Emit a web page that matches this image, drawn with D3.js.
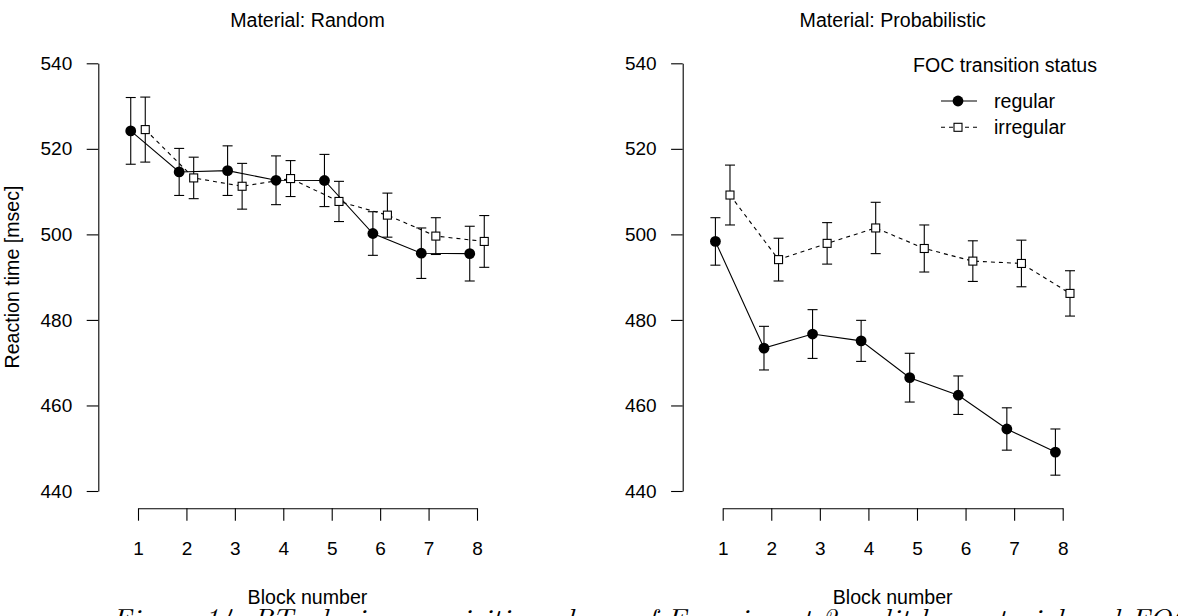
<!DOCTYPE html>
<html lang="en">
	<head>
		<meta charset="UTF-8" />
		<title>RT by block</title>
		<style>
			body { margin: 0; background: #fff; }
			svg { display: block; font-family: "Liberation Sans", Arial, Helvetica, sans-serif; }
		</style>
	</head>
	<body>
		<svg width="1178" height="616" id="svg"></svg>
		<script src="https://cdn.jsdelivr.net/npm/d3@7"></script>
		<script>
			// data (means and half-width of error bars)
			const blocks = [1, 2, 3, 4, 5, 6, 7, 8]
			const yTicks = [440, 460, 480, 500, 520, 540]
			const panelTitles = ["Material: Random", "Material: Probabilistic"]
			const seriesNames = ["regular", "irregular"]

			const randomRegular = [524.2, 514.6, 514.9, 512.65, 512.6, 500.2, 495.6, 495.5]
			const randomRegularErr = [7.8, 5.5, 5.8, 5.7, 6.1, 5.1, 5.9, 6.4]
			const randomIrregular = [524.5, 513.2, 511.25, 513.05, 507.7, 504.5, 499.6, 498.35]
			const randomIrregularErr = [7.6, 4.85, 5.35, 4.2, 4.7, 5.15, 4.3, 6.05]

			const probRegular = [498.35, 473.4, 476.7, 475.1, 466.5, 462.4, 454.5, 449.1]
			const probRegularErr = [5.55, 5.1, 5.7, 4.8, 5.7, 4.5, 4.95, 5.4]
			const probIrregular = [509.2, 494.1, 497.9, 501.5, 496.7, 493.75, 493.2, 486.2]
			const probIrregularErr = [7, 5, 4.85, 6, 5.5, 4.75, 5.45, 5.3]

			const svg = d3.select("#svg")
			const fs = 19.6 // labels
			const tfs = 19 // tick labels

			const y = d3.scaleLinear().domain([440, 540]).range([491, 63.3])

			const panels = [
				{
					title: panelTitles[0],
					axisX: 98.3,
					range: [138, 477],
					series: [
						{ name: seriesNames[0], vals: randomRegular, err: randomRegularErr, shift: -0.15 },
						{ name: seriesNames[1], vals: randomIrregular, err: randomIrregularErr, shift: 0.15 },
					],
				},
				{
					title: panelTitles[1],
					axisX: 682.7,
					range: [722.7, 1062.7],
					series: [
						{ name: seriesNames[0], vals: probRegular, err: probRegularErr, shift: -0.15 },
						{ name: seriesNames[1], vals: probIrregular, err: probIrregularErr, shift: 0.15 },
					],
				},
			]

			panels.forEach((p) => {
				const x = d3.scaleLinear().domain([1, 8]).range(p.range)
				const g = svg.append("g")

				// y axis
				const ya = g
					.append("g")
					.attr("transform", `translate(${p.axisX},0)`)
					.call(d3.axisLeft(y).tickValues(yTicks).tickFormat(d3.format("d")).tickSize(11.6).tickSizeOuter(0).tickPadding(14.5))
				// x axis
				const xa = g
					.append("g")
					.attr("transform", `translate(0,508.3)`)
					.call(d3.axisBottom(x).tickValues(blocks).tickFormat(d3.format("d")).tickSize(12.4).tickSizeOuter(0).tickPadding(20.5))
				;[ya, xa].forEach((a) => {
					a.selectAll("path,line").attr("stroke", "#000").attr("stroke-width", 1.1)
					a.selectAll("text").attr("font-size", tfs).attr("font-family", null).attr("fill", "#000")
				})

				g.append("text")
					.attr("x", (p.range[0] + p.range[1]) / 2)
					.attr("y", 26.5)
					.attr("text-anchor", "middle")
					.attr("font-size", fs)
					.text(p.title)

				g.append("text")
					.attr("x", (p.range[0] + p.range[1]) / 2)
					.attr("y", 604)
					.attr("text-anchor", "middle")
					.attr("font-size", fs)
					.text("Block number")

				p.series.forEach((s, si) => {
					const pts = blocks.map((b, i) => ({ b: b + s.shift, v: s.vals[i], e: s.err[i] }))
					const sg = g.append("g")

					// error bars
					const eb = sg.selectAll(".eb").data(pts).join("g")
					eb.append("line")
						.attr("x1", (d) => x(d.b)).attr("x2", (d) => x(d.b))
						.attr("y1", (d) => y(d.v - d.e)).attr("y2", (d) => y(d.v + d.e))
					eb.append("line")
						.attr("x1", (d) => x(d.b) - 5).attr("x2", (d) => x(d.b) + 5)
						.attr("y1", (d) => y(d.v + d.e)).attr("y2", (d) => y(d.v + d.e))
					eb.append("line")
						.attr("x1", (d) => x(d.b) - 5).attr("x2", (d) => x(d.b) + 5)
						.attr("y1", (d) => y(d.v - d.e)).attr("y2", (d) => y(d.v - d.e))
					eb.selectAll("line").attr("stroke", "#000").attr("stroke-width", 1.1)

					sg.append("path")
						.datum(pts)
						.attr("fill", "none")
						.attr("stroke", "#000")
						.attr("stroke-width", 1.1)
						.attr("stroke-dasharray", si ? "4,4" : null)
						.attr("d", d3.line().x((d) => x(d.b)).y((d) => y(d.v)))

					if (si === 0) {
						sg.selectAll("circle").data(pts).join("circle")
							.attr("cx", (d) => x(d.b)).attr("cy", (d) => y(d.v))
							.attr("r", 5.4).attr("fill", "#000")
					} else {
						sg.selectAll("rect").data(pts).join("rect")
							.attr("x", (d) => x(d.b) - 4).attr("y", (d) => y(d.v) - 4)
							.attr("width", 8).attr("height", 8)
							.attr("fill", "#fff").attr("stroke", "#000").attr("stroke-width", 1.1)
					}
				})
			})

			// y label
			svg.append("text")
				.attr("transform", "translate(18.5,277) rotate(-90)")
				.attr("text-anchor", "middle")
				.attr("font-size", fs)
				.text("Reaction time [msec]")

			// legend
			const lg = svg.append("g")
			lg.append("text").attr("x", 913).attr("y", 71.5).attr("font-size", fs).text("FOC transition status")
			seriesNames.forEach((n, i) => {
				const cy = 101 + i * 26.3
				lg.append("line")
					.attr("x1", 941).attr("x2", 977).attr("y1", cy).attr("y2", cy)
					.attr("stroke", "#000").attr("stroke-width", 1.1)
					.attr("stroke-dasharray", i ? "4,4" : null)
				if (i === 0) lg.append("circle").attr("cx", 958).attr("cy", cy).attr("r", 5.4).attr("fill", "#000")
				else lg.append("rect").attr("x", 954).attr("y", cy - 4).attr("width", 8).attr("height", 8)
					.attr("fill", "#fff").attr("stroke", "#000").attr("stroke-width", 1.1)
				lg.append("text").attr("x", 994).attr("y", cy + 6.5).attr("font-size", fs).text(n)
			})

			// figure caption, cut off at the bottom edge
			svg.append("text")
				.attr("x", 112)
				.attr("y", 627)
				.attr("font-family", "'Latin Modern Roman', 'DejaVu Serif', 'Liberation Serif', serif")
				.attr("font-style", "italic")
				.attr("font-size", 26)
				.attr("textLength", 1080)
				.attr("lengthAdjust", "spacingAndGlyphs")
				.text("Figure 14: RTs during acquisition phase of Experiment 2, split by material and FOC")
		</script>
	</body>
</html>
